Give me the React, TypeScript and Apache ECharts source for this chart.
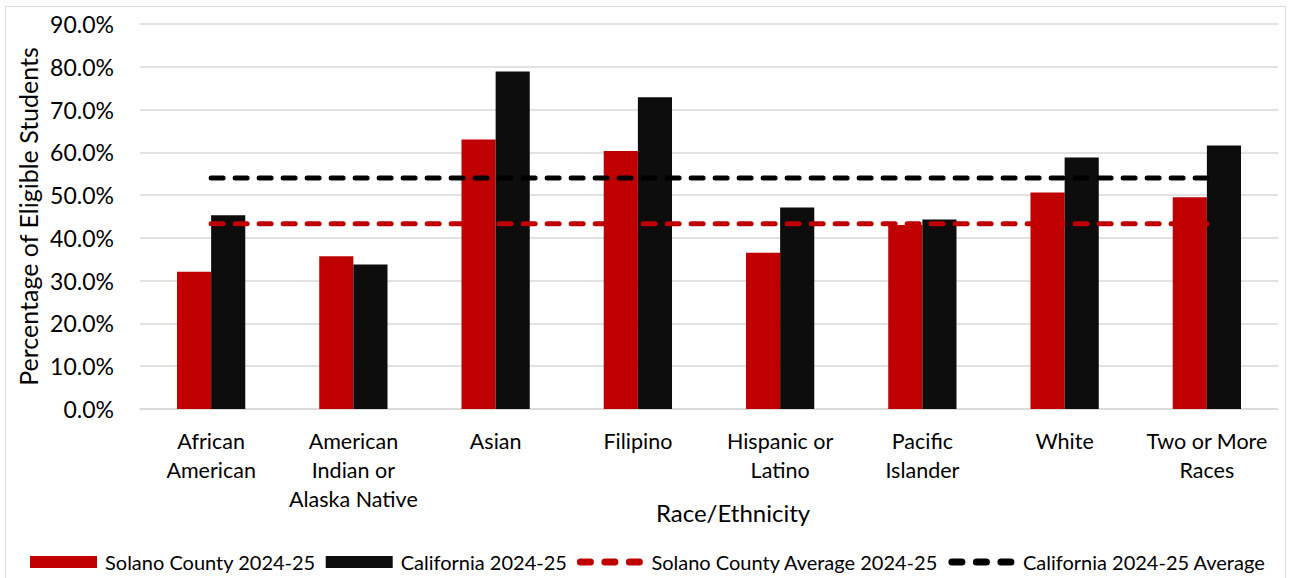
import React, { useEffect, useRef } from "react";
import * as echarts from "echarts";

const categories = [
  "African\nAmerican",
  "American\nIndian or\nAlaska Native",
  "Asian",
  "Filipino",
  "Hispanic or\nLatino",
  "Pacific\nIslander",
  "White",
  "Two or More\nRaces",
];
const solano = [32.1, 35.7, 63.0, 60.3, 36.5, 43.0, 50.6, 49.5];
const california = [45.3, 33.8, 78.9, 72.9, 47.1, 44.3, 58.8, 61.6];
const solanoAvg = [43.3, 43.3, 43.3, 43.3, 43.3, 43.3, 43.3, 43.3];
const californiaAvg = [54.0, 54.0, 54.0, 54.0, 54.0, 54.0, 54.0, 54.0];
const yTicks = { min: 0, max: 90, interval: 10 };

const FONT = "Lato";

const dashIcon =
  "path://M0,0 L0.01,0 L0,0.01 Z M0,12 L0.01,12 L0,11.99 Z " +
  "M3.5,2.5 H13.5 A3.5,3.5 0 0 1 13.5,9.5 H3.5 A3.5,3.5 0 0 1 3.5,2.5 Z " +
  "M28,2.5 H38 A3.5,3.5 0 0 1 38,9.5 H28 A3.5,3.5 0 0 1 28,2.5 Z " +
  "M52.5,2.5 H62.5 A3.5,3.5 0 0 1 62.5,9.5 H52.5 A3.5,3.5 0 0 1 52.5,2.5 Z " +
  "M66,0 L65.99,0 L66,0.01 Z";

export default function App() {
  const ref = useRef<HTMLDivElement>(null);
  useEffect(() => {
    if (!ref.current) return;
    const chart = echarts.init(ref.current, null, { renderer: "svg" });
    chart.setOption({
      animation: false,
      backgroundColor: "#ffffff",
      textStyle: { fontFamily: FONT },
      graphic: [
        {
          type: "rect",
          shape: { x: 5.5, y: 6.5, width: 1280, height: 580 },
          style: { fill: "none", stroke: "#D9D9D9", lineWidth: 1 },
          silent: true,
          z: -1,
        },
      ],
      grid: { left: 140, right: 14, top: 24, bottom: 169 },
      legend: {
        left: 25,
        top: 547,
        itemWidth: 67,
        itemHeight: 12,
        itemGap: 10,
        textStyle: {
          fontFamily: FONT,
          fontSize: 20,
          color: "#000",
          padding: [0, 0, 0, 3],
        },
        data: [
          { name: "Solano County 2024-25", icon: "rect" },
          { name: "California 2024-25", icon: "rect" },
          {
            name: "Solano County Average 2024-25",
            icon: dashIcon,
            itemStyle: { color: "#C00000", borderWidth: 0 },
          },
          {
            name: "California 2024-25 Average",
            icon: dashIcon,
            itemStyle: { color: "#000000", borderWidth: 0 },
          },
        ],
      },
      xAxis: {
        type: "category",
        data: categories,
        axisTick: { show: false },
        axisLine: { lineStyle: { color: "#D9D9D9", width: 1.5 } },
        axisLabel: {
          fontFamily: FONT,
          fontSize: 21.5,
          color: "#000",
          lineHeight: 29,
          margin: 17,
          interval: 0,
        },
        name: "Race/Ethnicity",
        nameLocation: "middle",
        nameGap: 91,
        nameMoveOverlap: false,
        nameTextStyle: {
          fontFamily: FONT,
          fontSize: 24,
          color: "#000",
          padding: [0, 0, 0, 48],
        },
      },
      yAxis: {
        type: "value",
        min: yTicks.min,
        max: yTicks.max,
        interval: yTicks.interval,
        axisLabel: {
          fontFamily: FONT,
          fontSize: 23,
          color: "#000",
          margin: 26,
          formatter: (v: number) => `${v.toFixed(1)}%`,
        },
        splitLine: { lineStyle: { color: "#D9D9D9", width: 1.5 } },
        axisLine: { show: false },
        axisTick: { show: false },
        name: "Percentage of Eligible Students",
        nameLocation: "middle",
        nameGap: 100,
        nameMoveOverlap: false,
        nameTextStyle: { fontFamily: FONT, fontSize: 25, color: "#000" },
      },
      series: [
        {
          name: "Solano County 2024-25",
          type: "bar",
          data: solano,
          barGap: "0%",
          barCategoryGap: "52%",
          itemStyle: { color: "#C00000" },
        },
        {
          name: "California 2024-25",
          type: "bar",
          data: california,
          itemStyle: { color: "#0D0D0D" },
        },
        {
          name: "Solano County Average 2024-25",
          type: "line",
          data: solanoAvg,
          symbol: "none",
          itemStyle: { color: "#C00000" },
          lineStyle: { color: "#C00000", width: 5, type: [12, 12], cap: "round" },
          z: 5,
        },
        {
          name: "California 2024-25 Average",
          type: "line",
          data: californiaAvg,
          symbol: "none",
          itemStyle: { color: "#000000" },
          lineStyle: { color: "#000000", width: 5, type: [12, 12], cap: "round" },
          z: 5,
        },
      ],
    });
    return () => chart.dispose();
  }, []);
  return (
    <div
      ref={ref}
      style={{ position: "absolute", left: 0, top: 0, width: 1292, height: 578 }}
    />
  );
}
